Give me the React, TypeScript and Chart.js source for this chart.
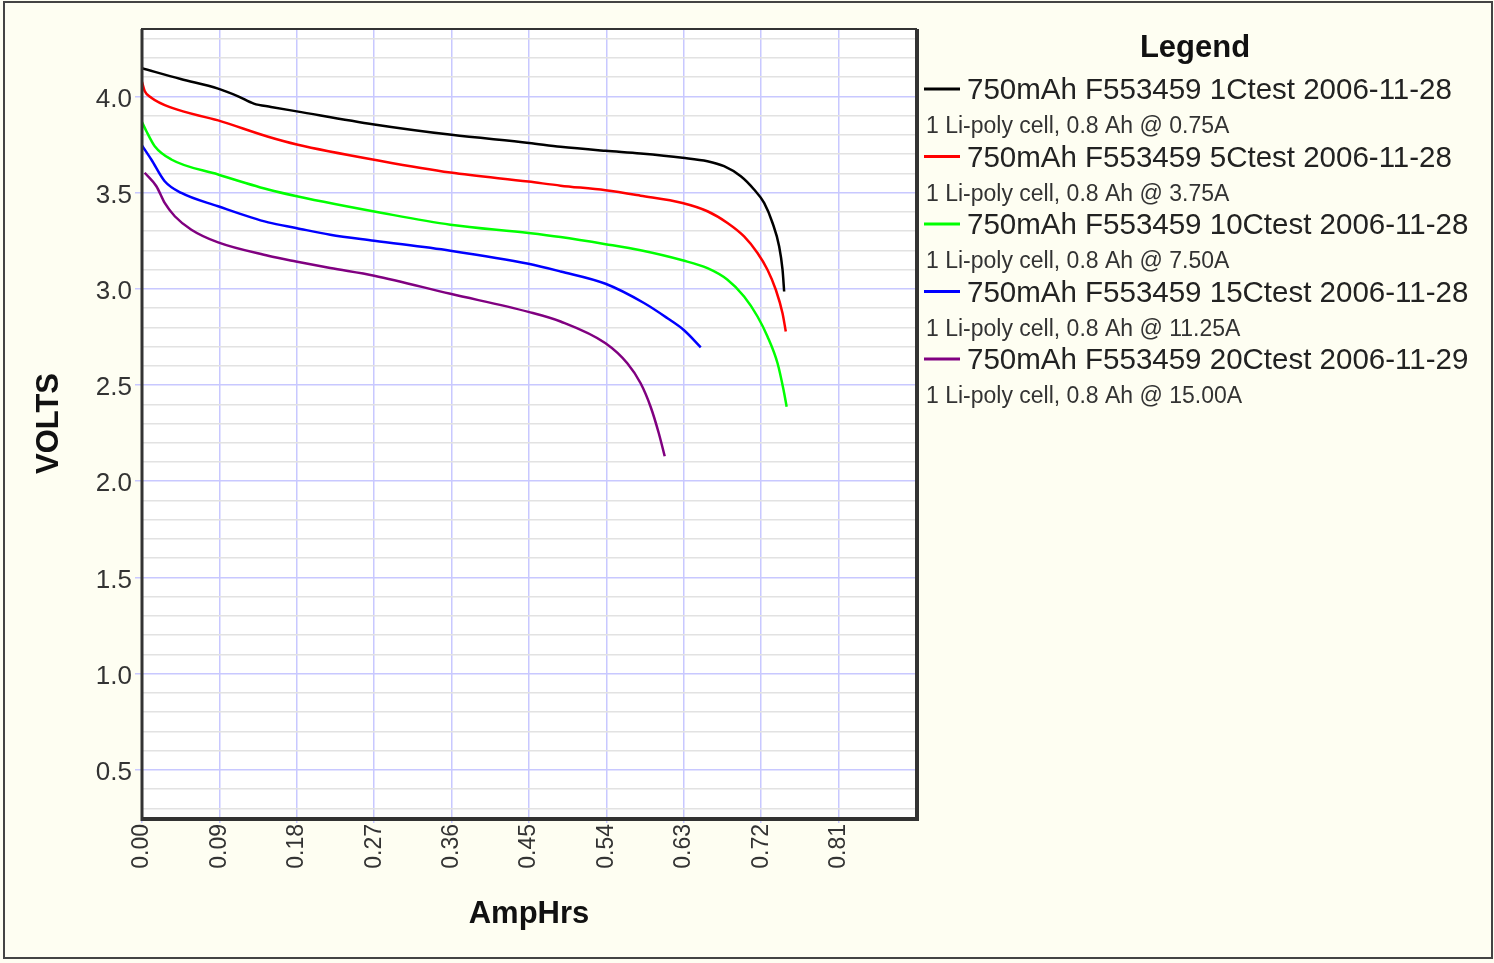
import React, { useEffect, useRef } from "react";
import { Chart, registerables } from "chart.js";

Chart.register(...registerables);

// ---- Data (AmpHrs vs VOLTS) ----
const ah1C = [0.0, 0.045, 0.0885, 0.1118, 0.13, 0.15, 0.18, 0.27, 0.36, 0.45, 0.4867, 0.539, 0.5797, 0.6284, 0.6575, 0.6768, 0.6963, 0.7117, 0.7234, 0.7332, 0.7409, 0.7448, 0.7467];
const v1C = [4.146, 4.09, 4.04, 4.0, 3.962, 3.945, 3.922, 3.854, 3.80, 3.758, 3.738, 3.717, 3.703, 3.681, 3.663, 3.637, 3.585, 3.516, 3.446, 3.342, 3.22, 3.099, 2.986];

const ah5C = [0.0, 0.0031, 0.0108, 0.0341, 0.0885, 0.1467, 0.18, 0.2794, 0.3586, 0.4494, 0.4867, 0.539, 0.5797, 0.6284, 0.6575, 0.6808, 0.7001, 0.7157, 0.7273, 0.737, 0.7448, 0.7486];
const v5C = [4.075, 4.028, 3.993, 3.941, 3.875, 3.79, 3.75, 3.663, 3.604, 3.557, 3.536, 3.512, 3.484, 3.446, 3.403, 3.342, 3.272, 3.186, 3.099, 2.995, 2.873, 2.778];

const ah10C = [0.0, 0.005, 0.0148, 0.0341, 0.0885, 0.1467, 0.18, 0.2794, 0.3586, 0.4494, 0.4867, 0.539, 0.5797, 0.6284, 0.6575, 0.6808, 0.7001, 0.7157, 0.7273, 0.739, 0.746, 0.7496];
const v10C = [3.866, 3.82, 3.741, 3.672, 3.594, 3.516, 3.481, 3.394, 3.333, 3.29, 3.269, 3.232, 3.2, 3.148, 3.107, 3.047, 2.96, 2.856, 2.752, 2.613, 2.474, 2.387];

const ah15C = [0.0, 0.0108, 0.0264, 0.0458, 0.0885, 0.1467, 0.179, 0.2189, 0.27, 0.3586, 0.4494, 0.4867, 0.539, 0.5837, 0.611, 0.63, 0.6497];
const v15C = [3.745, 3.672, 3.559, 3.498, 3.429, 3.345, 3.316, 3.281, 3.25, 3.198, 3.13, 3.09, 3.026, 2.926, 2.847, 2.786, 2.696];

const ah20C = [0.0031, 0.0167, 0.0264, 0.0381, 0.0574, 0.0885, 0.1467, 0.179, 0.2189, 0.27, 0.3586, 0.4494, 0.4867, 0.539, 0.5643, 0.5798, 0.5914, 0.601, 0.6078];
const v20C = [3.603, 3.533, 3.446, 3.377, 3.307, 3.241, 3.172, 3.142, 3.108, 3.068, 2.974, 2.88, 2.83, 2.717, 2.613, 2.509, 2.387, 2.248, 2.13];

const seriesNames = [
  "750mAh F553459 1Ctest 2006-11-28",
  "750mAh F553459 5Ctest 2006-11-28",
  "750mAh F553459 10Ctest 2006-11-28",
  "750mAh F553459 15Ctest 2006-11-28",
  "750mAh F553459 20Ctest 2006-11-29",
];
const seriesNotes = [
  "1 Li-poly cell, 0.8 Ah @ 0.75A",
  "1 Li-poly cell, 0.8 Ah @ 3.75A",
  "1 Li-poly cell, 0.8 Ah @ 7.50A",
  "1 Li-poly cell, 0.8 Ah @ 11.25A",
  "1 Li-poly cell, 0.8 Ah @ 15.00A",
];
const seriesColors = ["#000000", "#ff0000", "#00ff00", "#0000ff", "#800080"];
const seriesX = [ah1C, ah5C, ah10C, ah15C, ah20C];
const seriesY = [v1C, v5C, v10C, v15C, v20C];

const xTicks = [0.0, 0.09, 0.18, 0.27, 0.36, 0.45, 0.54, 0.63, 0.72, 0.81];
const yTicks: number[] = [];
for (let i = 3; i <= 43; i++) yTicks.push(i / 10);

const FONT = "'Liberation Sans', Arial, sans-serif";
const BG = "#fefef2";

const isMajor = (v: number) => Math.abs(v * 2 - Math.round(v * 2)) < 1e-6;

const framePlugin = {
  id: "frame",
  beforeDraw(chart: any) {
    const { ctx, width, height, chartArea } = chart;
    ctx.save();
    ctx.fillStyle = BG;
    ctx.fillRect(0, 0, width, height);
    ctx.strokeStyle = "#444";
    ctx.lineWidth = 2;
    ctx.strokeRect(4, 2, 1488, 956);
    ctx.fillStyle = "#ffffff";
    ctx.fillRect(chartArea.left, chartArea.top, chartArea.right - chartArea.left, chartArea.bottom - chartArea.top);
    ctx.restore();
  },
  afterDatasetsDraw(chart: any) {
    const { ctx, chartArea } = chart;
    const { left, right, top, bottom } = chartArea;
    ctx.save();
    ctx.strokeStyle = "#333";
    ctx.lineWidth = 2;
    ctx.strokeRect(left, top, right - left, bottom - top);
    ctx.lineWidth = 3;
    ctx.beginPath();
    ctx.moveTo(left, top);
    ctx.lineTo(left, bottom + 1.5);
    ctx.lineTo(right + 1.5, bottom + 1.5);
    ctx.lineTo(right + 1.5, top);
    ctx.stroke();
    ctx.restore();
  },
  afterDraw(chart: any) {
    const { ctx } = chart;
    ctx.save();
    ctx.fillStyle = "#111";
    ctx.textBaseline = "middle";
    ctx.textAlign = "center";
    ctx.font = `bold 31px ${FONT}`;
    ctx.fillText("Legend", 1195, 48);
    for (let i = 0; i < seriesNames.length; i++) {
      const y = 90 + i * 67.5;
      ctx.strokeStyle = seriesColors[i];
      ctx.lineWidth = 3;
      ctx.beginPath();
      ctx.moveTo(924, y - 1);
      ctx.lineTo(960, y - 1);
      ctx.stroke();
      ctx.textAlign = "left";
      ctx.fillStyle = "#222";
      ctx.font = `29.5px ${FONT}`;
      ctx.fillText(seriesNames[i], 967, y + 1);
      ctx.fillStyle = "#333";
      ctx.font = `23px ${FONT}`;
      ctx.fillText(seriesNotes[i], 926, y + 37);
    }
    ctx.restore();
  },
};

export default function App() {
  const canvasRef = useRef<HTMLCanvasElement | null>(null);

  useEffect(() => {
    document.body.style.margin = "0";
    const canvas = canvasRef.current;
    if (!canvas) return;
    const datasets = seriesNames.map((name, i) => ({
      label: name,
      data: seriesX[i].map((x, j) => ({ x, y: seriesY[i][j] })),
      borderColor: seriesColors[i],
      backgroundColor: seriesColors[i],
      borderWidth: 2.5,
      pointRadius: 0,
      cubicInterpolationMode: "monotone" as const,
      fill: false,
    }));
    const chart = new Chart(canvas, {
      type: "line",
      data: { datasets },
      options: {
        animation: false,
        responsive: true,
        maintainAspectRatio: false,
        layout: { padding: { left: 0, right: 578, top: 29, bottom: 0 } },
        plugins: {
          legend: { display: false },
          tooltip: { enabled: false },
        },
        scales: {
          x: {
            type: "linear",
            min: 0,
            max: 0.9,
            afterFit: (s: any) => {
              s.height = 145;
            },
            afterBuildTicks: (s: any) => {
              s.ticks = xTicks.map((v) => ({ value: v }));
            },
            border: { display: false },
            grid: {
              color: "#c8c8ff",
              lineWidth: 1.5,
              tickLength: 5,
              tickColor: "#c8c8ff",
            },
            ticks: {
              autoSkip: false,
              minRotation: 90,
              maxRotation: 90,
              padding: 1,
              color: "#333",
              font: { family: FONT, size: 23 },
              callback: (v: any) => Number(v).toFixed(2),
            },
            title: {
              display: true,
              text: "AmpHrs",
              color: "#111",
              font: { family: FONT, size: 31, weight: "bold" },
              padding: { top: 0, bottom: 30 },
            },
          },
          y: {
            type: "linear",
            min: 0.25,
            max: 4.35,
            afterFit: (s: any) => {
              s.width = 142;
            },
            afterBuildTicks: (s: any) => {
              s.ticks = yTicks.map((v) => ({ value: v }));
            },
            border: { display: false },
            grid: {
              color: (c: any) => (c.tick && isMajor(c.tick.value) ? "#c8c8ff" : "#e2e2e2"),
              lineWidth: 1.5,
              tickLength: 7,
              tickColor: (c: any) => (c.tick && isMajor(c.tick.value) ? "#c8c8ff" : "rgba(0,0,0,0)"),
            },
            ticks: {
              autoSkip: false,
              padding: 3,
              labelOffset: 3,
              color: "#333",
              font: { family: FONT, size: 26 },
              callback: (v: any) => (isMajor(Number(v)) ? Number(v).toFixed(1) : ""),
            },
            title: {
              display: true,
              text: "VOLTS",
              color: "#111",
              font: { family: FONT, size: 31, weight: "bold" },
              padding: { top: 31, bottom: 0 },
            },
          },
        },
      },
      plugins: [framePlugin],
    });
    return () => chart.destroy();
  }, []);

  return (
    <div style={{ width: 1494, height: 963, position: "relative" }}>
      <canvas ref={canvasRef} />
    </div>
  );
}
